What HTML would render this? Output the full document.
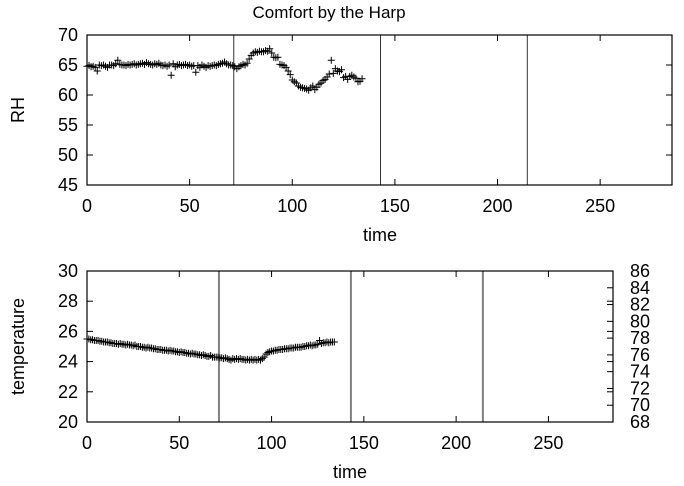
<!DOCTYPE html>
<html><head><meta charset="utf-8"><style>
html,body{margin:0;padding:0;background:#fff;}
svg{display:block;font-family:"Liberation Sans",Arial,sans-serif;}
</style></head><body>
<svg id="c" width="684" height="486" viewBox="0 0 684 486"></svg>
<script>
const timeStart = 0;
const rhValues = [64.8,64.9,64.7,64.8,64.6,64.0,65.0,64.9,65.0,64.8,
64.6,65.0,65.0,64.9,65.2,65.8,65.1,65.0,65.0,64.9,
65.1,65.0,65.1,65.2,65.0,65.1,65.2,65.3,65.1,65.4,
65.2,65.1,65.0,65.2,65.1,65.3,65.0,64.9,65.0,64.8,
65.0,63.3,65.2,64.7,65.0,65.1,64.9,65.0,65.1,64.9,
65.0,64.8,64.9,63.8,64.9,64.6,65.0,64.8,64.6,64.9,
64.8,64.9,65.0,64.9,65.1,65.2,65.3,65.5,65.2,65.0,
65.0,64.9,64.7,64.4,64.7,64.9,65.1,65.0,65.3,66.0,
66.6,67.0,67.2,67.1,67.3,67.2,67.2,67.4,67.3,67.7,
67.0,66.3,66.2,66.3,65.1,65.0,64.9,64.6,64.0,63.4,
62.5,62.2,62.0,61.5,61.3,61.2,61.1,61.0,60.8,61.2,
61.5,60.9,61.3,61.8,62.0,62.4,62.6,63.0,63.5,65.8,
63.6,64.4,64.0,63.9,64.2,62.9,63.1,62.6,63.1,63.3,
63.0,62.8,62.2,62.3,62.7];
const tempValues = [25.5,25.5,25.45,25.45,25.4,25.4,25.4,25.35,25.35,25.3,
25.3,25.3,25.25,25.25,25.2,25.2,25.2,25.15,25.2,25.15,
25.15,25.1,25.15,25.1,25.1,25.05,25.1,25.0,25.0,25.0,
24.95,24.95,24.9,24.95,24.9,24.9,24.85,24.85,24.8,24.8,
24.8,24.75,24.75,24.75,24.7,24.75,24.7,24.7,24.65,24.65,
24.6,24.65,24.6,24.6,24.55,24.55,24.5,24.55,24.5,24.5,
24.45,24.45,24.4,24.45,24.4,24.35,24.35,24.4,24.3,24.3,
24.3,24.3,24.25,24.25,24.2,24.25,24.2,24.15,24.1,24.2,
24.15,24.2,24.15,24.2,24.15,24.15,24.1,24.15,24.1,24.15,
24.1,24.15,24.1,24.15,24.1,24.2,24.3,24.5,24.6,24.65,
24.7,24.7,24.75,24.75,24.8,24.8,24.8,24.85,24.85,24.85,
24.9,24.9,24.9,24.95,24.95,24.95,24.95,25.0,25.0,25.05,
25.05,25.1,25.05,25.1,25.1,25.15,25.4,25.2,25.25,25.25,
25.3,25.25,25.3,25.3,25.3];
const xTicks = [0,50,100,150,200,250];
const rhTicks = [45,50,55,60,65,70];
const tempTicks = [20,22,24,26,28,30];
const fTicks = [68,70,72,74,76,78,80,82,84,86];
const markerLines = [71.5,143,214.5];

const NS="http://www.w3.org/2000/svg";
const svg=document.getElementById('c');
function el(t,a,p){const e=document.createElementNS(NS,t);for(const k in a)e.setAttribute(k,a[k]);(p||svg).appendChild(e);return e;}
function txt(s,a,p){const e=el('text',a,p);e.textContent=s;return e;}

const t=txt('Comfort by the Harp',{x:329,y:18,'text-anchor':'middle','font-size':17});



function panel(o){
  const g=el('g',{});
  
  
  const X=v=>o.L+(v-0)/(285-0)*(o.R-o.L);
  const Y=v=>o.B-(v-o.ymin)/(o.ymax-o.ymin)*(o.B-o.T);
  markerLines.forEach(v=>{
    const l=el('line',{x1:X(v),x2:X(v),y1:o.T,y2:o.B,stroke:o.vcol,'stroke-width':o.vw},g);
    
    
  });
  xTicks.forEach(v=>{
    const x=X(v);
    el('line',{x1:x,x2:x,y1:o.B,y2:o.B-6,stroke:'#000'},g);
    el('line',{x1:x,x2:x,y1:o.T,y2:o.T+6,stroke:'#000'},g);
    const l=txt(v,{x:x,y:o.B+27,'text-anchor':'middle','font-size':18},g);
    
    
  });
  o.yt.forEach(v=>{
    const y=Y(v);
    el('line',{x1:o.L,x2:o.L+6,y1:y,y2:y,stroke:'#000'},g);
    el('line',{x1:o.R,x2:o.R-6,y1:y,y2:y,stroke:'#000'},g);
    const l=txt(v,{x:o.L-9,y:y+6,'text-anchor':'end','font-size':18},g);
    
    
  });
  const pg=el('g',{stroke:'#000','stroke-width':1,fill:'none'},g);
  
  
  o.vals.forEach((v,i)=>{
    const x=X(timeStart+i),y=Y(v);
    const p=el('path',{d:`M${x-3.5},${y}H${x+3.5}M${x},${y-3.5}V${y+3.5}`},pg);
    
    
  });
  const b=el('rect',{x:o.L,y:o.T,width:o.R-o.L,height:o.B-o.T,fill:'none',stroke:'#000','stroke-width':1.2},g);
  
  
  const xl=txt('time',{x:o.xlx,y:o.B+56,'text-anchor':'middle','font-size':18},g);
  
  
  const cy=(o.T+o.B)/2;
  const yl=txt(o.ylabel,{x:0,y:0,'text-anchor':'middle','font-size':18,transform:`translate(${o.ylx},${cy}) rotate(-90)`},g);
  
  
  return {X,Y,g};
}

panel({name:'rh-panel',series:'rh',L:87,R:672,T:35,B:185,ymin:45,ymax:70,yt:rhTicks,vals:rhValues,vcol:'#333',vw:1,ylabel:'RH',ylx:24,xlx:380});
const p2=panel({name:'temperature-panel',series:'temperature',L:87,R:613,T:271,B:422,ymin:20,ymax:30,yt:tempTicks,vals:tempValues,vcol:'#808080',vw:2,ylabel:'temperature',ylx:24,xlx:350});
const FY=f=>422-(f-68)/(86-68)*(422-271);
fTicks.forEach(f=>{
  const y=FY(f);
  el('line',{x1:613,x2:607,y1:y,y2:y,stroke:'#000'},p2.g);
  const l=txt(f,{x:630,y:y+6,'font-size':18},p2.g);
  
  
});
</script>
</body></html>
